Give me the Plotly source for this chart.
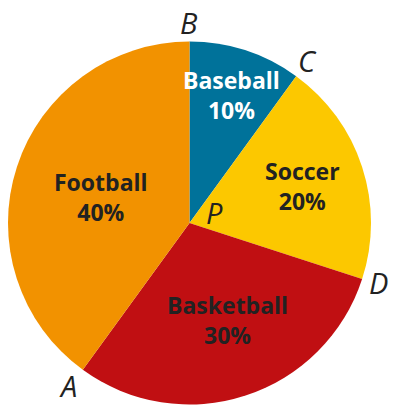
import plotly.graph_objects as go

sports = ["Baseball", "Soccer", "Basketball", "Football"]
shares = [10, 20, 30, 40]
colors = ["#00729a", "#fcc800", "#c00f12", "#f29200"]
text_colors = ["#ffffff", "#222222", "#222222", "#222222"]
label_x = [231, 302, 227, 101]
label_y = [95, 186, 320, 197]

point_labels = ["B", "C", "D", "A", "P"]
point_x = [189, 307, 378, 68, 215]
point_y = [22, 60, 282, 385, 212]

W, H = 402, 410

fig = go.Figure(go.Pie(
    labels=sports,
    values=shares,
    sort=False,
    direction="clockwise",
    rotation=0,
    marker=dict(colors=colors, line=dict(width=0)),
    textinfo="none",
    hoverinfo="skip",
    showlegend=False,
    domain=dict(x=[8 / W, 371 / W], y=[1 - 405 / H, 1 - 41 / H]),
))

for name, val, col, lx, ly in zip(sports, shares, text_colors, label_x, label_y):
    fig.add_annotation(
        x=lx / W, y=1 - ly / H, xref="paper", yref="paper",
        text=f"{name}<br>{val}%", showarrow=False,
        font=dict(family="Open Sans", size=23, color=col, weight="bold"),
        xanchor="center", yanchor="middle",
    )

for lab, px, py in zip(point_labels, point_x, point_y):
    fig.add_annotation(
        x=px / W, y=1 - py / H, xref="paper", yref="paper",
        text=f"<i>{lab}</i>", showarrow=False,
        font=dict(family="Open Sans", size=29, color="#222222"),
        xanchor="center", yanchor="middle",
    )

fig.update_layout(
    width=W, height=H,
    margin=dict(l=0, r=0, t=0, b=0),
    paper_bgcolor="white",
    plot_bgcolor="white",
)

fig.write_html("out.html", config={"displayModeBar": False},
               post_script="document.body.style.margin='0';")
